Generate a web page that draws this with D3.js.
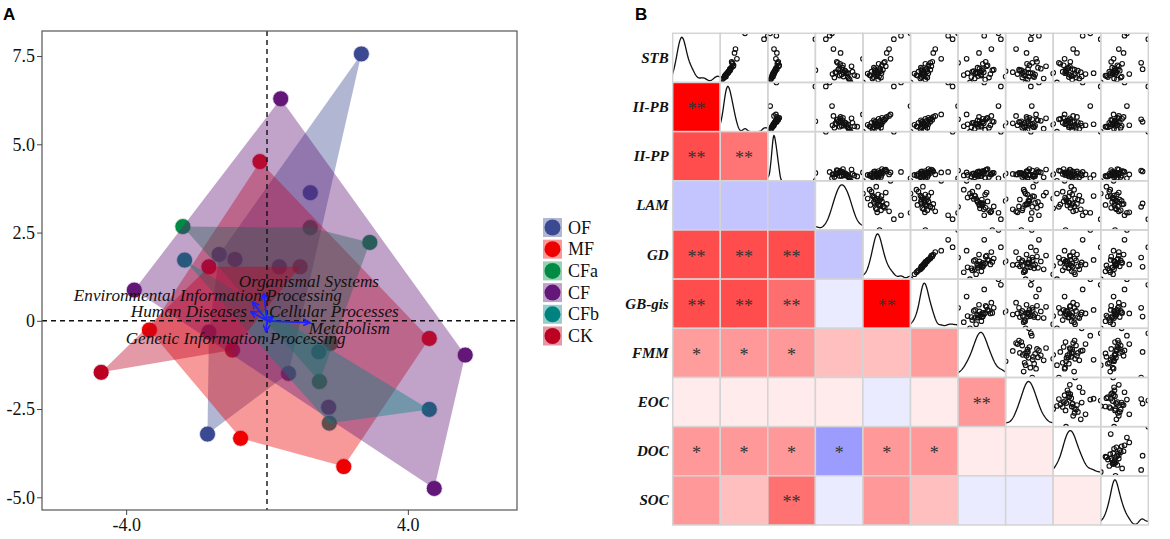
<!DOCTYPE html>
<html>
<head>
<meta charset="utf-8">
<script src="https://cdn.jsdelivr.net/npm/d3@7"></script>
<style>
body { margin: 0; background: #fff; }
svg { display: block; }
</style>
</head>
<body>
<div id="chart"></div>
<script>
// ---------- panel A : PCA scores per group ----------
var groups = ['OF', 'MF', 'CFa', 'CF', 'CFb', 'CK'];
var groupColors = ['#3B4992', '#EE0000', '#008B45', '#631879', '#008280', '#BB0021'];

var pcaOF  = [[2.68, 7.56], [1.23, 3.63], [-1.36, 1.88], [-1.65, -0.32], [-1.69, -3.21], [0.61, -1.49]];
var pcaMF  = [[-0.20, 4.51], [-3.34, -0.26], [-0.75, -3.33], [2.18, -4.13], [4.61, -0.50]];
var pcaCFa = [[-2.39, 2.67], [1.23, 2.64], [2.92, 2.22], [1.80, -0.64], [1.49, -1.72]];
var pcaCF  = [[0.39, 6.29], [-3.77, 0.87], [5.63, -0.97], [4.75, -4.75], [-0.91, 1.74], [0.35, 1.53], [1.75, -2.45]];
var pcaCFb = [[-2.34, 1.72], [1.47, -0.88], [1.77, -2.90], [4.61, -2.51]];
var pcaCK  = [[-4.71, -1.46], [-1.65, 1.53], [0.94, 1.53], [-0.98, -0.83]];

// functional category loadings (arrow tips) and where their labels sit
var loadNames = ['Organismal Systems', 'Environmental Information Processing', 'Human Diseases',
                 'Cellular Processes', 'Metabolism', 'Genetic Information Processing'];
var loadX = [-0.09, -0.41, -0.46, 0.18, 1.22, -0.03];
var loadY = [0.78, 0.54, 0.26, 0.12, -0.05, -0.31];
var labelX = [1.19, -1.68, -2.22, 1.90, 2.34, -0.89];
var labelY = [1.11, 0.73, 0.26, 0.26, -0.21, -0.50];

var xTicksA = [-4, 4];
var xTickLabelsA = ['-4.0', '4.0'];
var yTicksA = [-5, -2.5, 0, 2.5, 5, 7.5];
var yTickLabelsA = ['-5.0', '-2.5', '0', '2.5', '5.0', '7.5'];

// ---------- panel B : sample values per variable (36 samples) ----------
var vars = ['STB', 'II-PB', 'II-PP', 'LAM', 'GD', 'GB-gis', 'FMM', 'EOC', 'DOC', 'SOC'];
var sSTB  = [16,22,10,95,19,26,13,38,8,68,20,42,0,24,100,28,15,35,21,11,60,25,18,40,6,30,17,88,23,14,33,20,12,48,27,19];
var sIIPB = [12,18,8,100,15,20,10,26,6,32,16,24,0,19,52,22,11,28,17,9,30,21,14,25,4,23,13,92,18,10,27,16,12,35,20,15];
var sIIPP = [10,14,8,18,12,16,9,20,7,13,12,22,0,15,5,17,11,24,14,9,19,16,12,21,6,18,13,100,15,10,23,14,11,17,19,12];
var sLAM  = [55,78,40,30,66,48,88,52,70,38,60,45,74,62,35,50,82,58,42,68,53,0,64,47,72,57,36,22,63,51,76,44,59,100,54,69];
var sGD   = [30,18,38,80,24,42,28,33,20,55,31,46,0,26,100,36,14,40,29,22,50,35,10,44,32,23,30,65,37,16,48,27,34,58,25,39];
var sGBg  = [28,16,34,76,24,40,25,30,20,50,27,44,0,22,96,33,12,36,27,22,46,30,8,40,30,21,29,85,34,14,42,24,31,62,23,36];
var sFMM  = [48,30,65,55,20,75,42,52,35,70,40,58,25,50,85,45,12,62,54,28,44,72,38,0,57,41,68,90,33,49,60,46,100,18,52,36];
var sEOC  = [62,40,35,70,52,28,58,45,80,22,48,66,42,30,55,74,38,50,15,60,44,33,100,56,46,68,25,53,0,41,85,36,49,64,47,57];
var sDOC  = [34,20,48,62,25,45,38,15,55,42,28,36,8,52,78,30,44,22,58,33,50,26,46,12,40,32,68,100,27,39,35,0,60,24,41,85];
var sSOC  = [30,18,42,50,25,36,12,45,28,38,32,22,0,40,55,29,20,35,33,15,48,30,26,85,34,24,60,100,28,10,38,31,44,27,88,21];

// lower triangle: correlation (colour) and significance marks, row by row
var corrRows = [
  [],
  [1.00],
  [0.70, 0.54],
  [-0.23, -0.23, -0.23],
  [0.70, 0.70, 0.70, -0.23],
  [0.70, 0.70, 0.57, -0.08, 1.00],
  [0.39, 0.40, 0.40, 0.25, 0.25, 0.39],
  [0.08, 0.08, 0.08, 0.08, -0.08, 0.08, 0.40],
  [0.40, 0.40, 0.40, -0.39, 0.40, 0.40, 0.08, 0.08],
  [0.40, 0.25, 0.56, -0.08, 0.40, 0.25, -0.08, -0.08, 0.08]
];
var starRows = [
  [],
  ['**'],
  ['**', '**'],
  ['', '', ''],
  ['**', '**', '**', ''],
  ['**', '**', '**', '', '**'],
  ['*', '*', '*', '', '', ''],
  ['', '', '', '', '', '', '**'],
  ['*', '*', '*', '*', '*', '*', '', ''],
  ['', '', '**', '', '', '', '', '', '']
];

var samples = [sSTB, sIIPB, sIIPP, sLAM, sGD, sGBg, sFMM, sEOC, sDOC, sSOC];

var svg = d3.select('#chart').append('svg')
    .attr('width', 1170)
    .attr('height', 539);
var defs = svg.append('defs');

svg.append('text').attr('x', 3).attr('y', 20)
    .attr('font-family', 'Liberation Sans, Arial, sans-serif')
    .attr('font-weight', 'bold').attr('font-size', 17).text('A');
svg.append('text').attr('x', 635).attr('y', 20)
    .attr('font-family', 'Liberation Sans, Arial, sans-serif')
    .attr('font-weight', 'bold').attr('font-size', 17).text('B');

// ================= panel A =================
var serif = 'Liberation Serif, Times New Roman, serif';
var boxA = {left: 42, right: 517, top: 31, bottom: 510};

var xA = d3.scaleLinear().domain([-6.39, 7.10]).range([boxA.left, boxA.right]);
var yA = d3.scaleLinear().domain([-5.36, 8.21]).range([boxA.bottom, boxA.top]);

var gA = svg.append('g');
var groupData = [pcaOF, pcaMF, pcaCFa, pcaCF, pcaCFb, pcaCK];

// points go underneath the hulls
groupData.forEach(function(pts, gi) {
    gA.append('g').selectAll('circle').data(pts).enter().append('circle')
        .attr('cx', function(d) { return xA(d[0]); })
        .attr('cy', function(d) { return yA(d[1]); })
        .attr('r', 8)
        .attr('fill', groupColors[gi])
        .attr('stroke', '#e8e8f0')
        .attr('stroke-width', 0.8);
});

groupData.forEach(function(pts, gi) {
    var hull = d3.polygonHull(pts.map(function(d) { return [xA(d[0]), yA(d[1])]; }));
    gA.append('path')
        .attr('d', 'M' + hull.join('L') + 'Z')
        .attr('fill', groupColors[gi])
        .attr('fill-opacity', 0.4);
});

// reference lines
gA.append('line')
    .attr('x1', xA(0)).attr('x2', xA(0)).attr('y1', boxA.top).attr('y2', boxA.bottom)
    .attr('stroke', '#111').attr('stroke-width', 1.4).attr('stroke-dasharray', '5,4');
gA.append('line')
    .attr('x1', boxA.left).attr('x2', boxA.right).attr('y1', yA(0)).attr('y2', yA(0))
    .attr('stroke', '#111').attr('stroke-width', 1.4).attr('stroke-dasharray', '5,4');

// border
gA.append('rect')
    .attr('x', boxA.left).attr('y', boxA.top)
    .attr('width', boxA.right - boxA.left).attr('height', boxA.bottom - boxA.top)
    .attr('fill', 'none').attr('stroke', '#555').attr('stroke-width', 1.2);

// axes
var axL = gA.append('g').attr('transform', 'translate(' + boxA.left + ',0)')
    .call(d3.axisLeft(yA).tickValues(yTicksA).tickSize(5).tickPadding(2)
        .tickFormat(function(d, i) { return yTickLabelsA[i]; }));
var axB = gA.append('g').attr('transform', 'translate(0,' + boxA.bottom + ')')
    .call(d3.axisBottom(xA).tickValues(xTicksA).tickSize(5).tickPadding(3)
        .tickFormat(function(d, i) { return xTickLabelsA[i]; }));
[axL, axB].forEach(function(ax) {
    ax.select('.domain').remove();
    ax.selectAll('line').attr('stroke', '#444');
    ax.selectAll('text').attr('font-family', serif).attr('font-size', 18).attr('fill', '#111');
});

// loading arrows
defs.append('marker')
    .attr('id', 'arrowA').attr('viewBox', '0 -4 8 8')
    .attr('refX', 7).attr('refY', 0)
    .attr('markerWidth', 8).attr('markerHeight', 8)
    .attr('markerUnits', 'userSpaceOnUse')
    .attr('orient', 'auto')
    .append('path').attr('d', 'M0,-3.5L7,0L0,3.5')
    .attr('fill', 'none').attr('stroke', '#2020ff').attr('stroke-width', 1.6);

loadNames.forEach(function(name, i) {
    gA.append('line')
        .attr('x1', xA(0)).attr('y1', yA(0))
        .attr('x2', xA(loadX[i])).attr('y2', yA(loadY[i]))
        .attr('stroke', '#2020ff').attr('stroke-width', 1.8)
        .attr('marker-end', 'url(#arrowA)');
});
loadNames.forEach(function(name, i) {
    gA.append('text')
        .attr('x', xA(labelX[i])).attr('y', yA(labelY[i]))
        .attr('text-anchor', 'middle').attr('dominant-baseline', 'central')
        .attr('font-family', serif).attr('font-style', 'italic')
        .attr('font-size', 17.2).attr('fill', '#111')
        .text(name);
});

// legend
var legend = svg.append('g').attr('transform', 'translate(543,218)');
groups.forEach(function(g, i) {
    var row = legend.append('g').attr('transform', 'translate(0,' + (i * 21.7) + ')');
    row.append('rect').attr('width', 19).attr('height', 19)
        .attr('fill', groupColors[i]).attr('fill-opacity', 0.4);
    row.append('circle').attr('cx', 9.5).attr('cy', 9.5).attr('r', 8)
        .attr('fill', groupColors[i]);
    row.append('text').attr('x', 25).attr('y', 9.5)
        .attr('dominant-baseline', 'central')
        .attr('font-family', serif).attr('font-size', 18).attr('fill', '#111')
        .text(g);
});

// ================= panel B =================
var boxB = {left: 672.7, right: 1148.3, top: 33.3, bottom: 525};
var n = vars.length;
var cw = (boxB.right - boxB.left) / n;
var ch = (boxB.bottom - boxB.top) / n;

var corrColor = d3.scaleLinear().domain([-1, 0, 1]).range(['#0000ff', '#ffffff', '#ff0000']);

// gaussian kernel density, bandwidth as R's bw.nrd0
function kde(values) {
    var sd = d3.deviation(values);
    var sorted = values.slice().sort(d3.ascending);
    var iqr = d3.quantileSorted(sorted, 0.75) - d3.quantileSorted(sorted, 0.25);
    var bw = 0.9 * Math.min(sd, iqr / 1.34) * Math.pow(values.length, -0.2);
    var ext = d3.extent(values);
    var xs = d3.range(ext[0] - 3 * bw, ext[1] + 3 * bw, (ext[1] - ext[0] + 6 * bw) / 150);
    return xs.map(function(x) {
        var s = d3.sum(values, function(v) {
            var u = (x - v) / bw;
            return Math.exp(-0.5 * u * u);
        });
        return [x, s / (values.length * bw * Math.sqrt(2 * Math.PI))];
    });
}

var gB = svg.append('g');

for (var i = 0; i < n; i++) {
    for (var j = 0; j < n; j++) {
        var x0 = boxB.left + j * cw, y0 = boxB.top + i * ch;
        var cell = gB.append('g').attr('transform', 'translate(' + x0 + ',' + y0 + ')');
        var clipId = 'clip-' + i + '-' + j;
        defs.append('clipPath').attr('id', clipId)
            .append('rect').attr('width', cw).attr('height', ch);

        if (j < i) {
            var r = corrRows[i][j];
            cell.append('rect').attr('width', cw).attr('height', ch)
                .attr('fill', corrColor(r));
            if (starRows[i][j]) {
                cell.append('text').attr('x', cw / 2).attr('y', ch / 2 + 8)
                    .attr('text-anchor', 'middle')
                    .attr('font-family', serif).attr('font-size', 18)
                    .attr('fill', '#333').text(starRows[i][j]);
            }
        } else if (j === i) {
            var dens = kde(samples[i]);
            var dx = d3.scaleLinear().domain(d3.extent(samples[i])).range([0, cw]);
            var dy = d3.scaleLinear().domain([0, d3.max(dens, function(d) { return d[1]; })])
                .range([ch, 4]);
            cell.append('g').attr('clip-path', 'url(#' + clipId + ')')
                .append('path').datum(dens)
                .attr('d', d3.line().x(function(d) { return dx(d[0]); }).y(function(d) { return dy(d[1]); }))
                .attr('fill', 'none').attr('stroke', '#111').attr('stroke-width', 1.3);
        } else {
            var sx = d3.scaleLinear().domain(d3.extent(samples[j])).range([0, cw]);
            var sy = d3.scaleLinear().domain(d3.extent(samples[i])).range([ch, 0]);
            var pairs = samples[j].map(function(v, k) { return [v, samples[i][k]]; });
            cell.append('g').attr('clip-path', 'url(#' + clipId + ')')
                .selectAll('circle').data(pairs).enter().append('circle')
                .attr('cx', function(d) { return sx(d[0]); })
                .attr('cy', function(d) { return sy(d[1]); })
                .attr('r', 2.3)
                .attr('fill', 'none').attr('stroke', '#111').attr('stroke-width', 1.1);
        }
        cell.append('rect').attr('width', cw).attr('height', ch)
            .attr('fill', 'none').attr('stroke', '#d4d4d4').attr('stroke-width', 1.5);
    }
    gB.append('text')
        .attr('x', boxB.left - 4).attr('y', boxB.top + (i + 0.5) * ch)
        .attr('text-anchor', 'end').attr('dominant-baseline', 'central')
        .attr('font-family', serif).attr('font-style', 'italic').attr('font-weight', 'bold')
        .attr('font-size', 15).attr('fill', '#111')
        .text(vars[i]);
}
</script>
</body>
</html>
